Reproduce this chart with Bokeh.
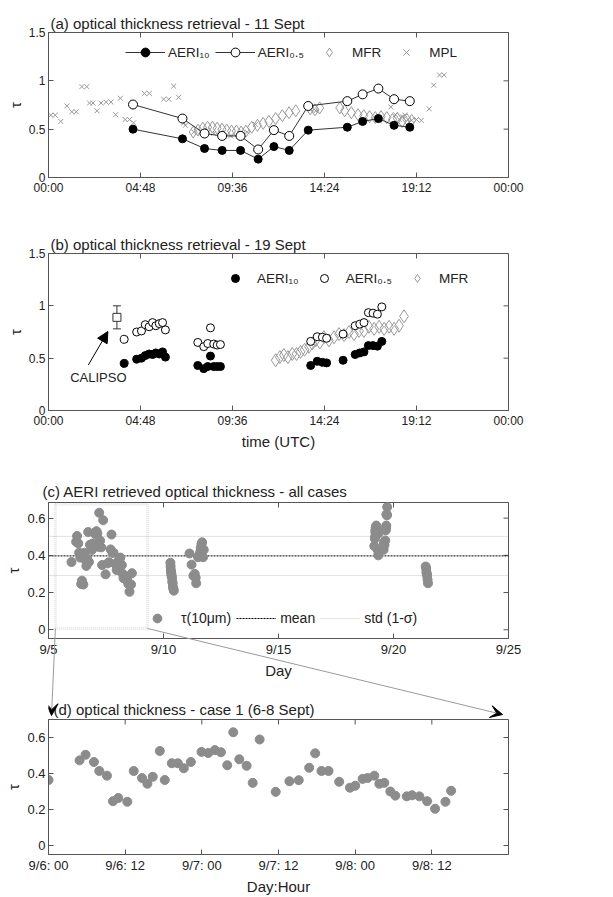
import math
from bokeh.plotting import figure
from bokeh.models import (ColumnDataSource, FixedTicker, CustomJSTickFormatter, Range1d,
                          Legend, LegendItem, Arrow, NormalHead, VeeHead, Whisker, TeeHead, Label,
                          BoxAnnotation)
from bokeh.layouts import column
from bokeh.embed import file_html
from bokeh.resources import INLINE

# ---------------- data ----------------
# (a) 11 Sept
a_aeri_hour = [4.41, 6.99, 8.14, 9.06, 10.02, 10.94, 11.76, 12.56, 13.55, 15.59, 16.39, 17.21, 18.03, 18.85]
a_aeri10 = [0.50, 0.40, 0.30, 0.28, 0.28, 0.19, 0.32, 0.28, 0.49, 0.52, 0.58, 0.61, 0.54, 0.52]
a_aeri05 = [0.755, 0.61, 0.455, 0.43, 0.43, 0.29, 0.49, 0.43, 0.74, 0.79, 0.86, 0.92, 0.81, 0.79]
a_mfr_hour = [7.55, 7.80, 8.05, 8.30, 8.55, 8.80, 9.05, 9.30, 9.55, 9.80, 10.05, 10.30, 10.60, 10.90,
              11.20, 11.50, 11.85, 12.20, 12.55, 12.90, 13.65, 13.90, 14.15, 15.20, 15.45, 15.80,
              16.15, 16.45, 16.75, 17.05, 17.35, 17.65, 17.95, 18.20, 18.45, 18.70, 18.95]
a_mfr = [0.47, 0.49, 0.51, 0.52, 0.52, 0.51, 0.50, 0.49, 0.48, 0.48, 0.47, 0.48, 0.52, 0.54,
         0.56, 0.58, 0.61, 0.64, 0.67, 0.69, 0.71, 0.70, 0.72, 0.72, 0.69, 0.67,
         0.65, 0.64, 0.63, 0.62, 0.63, 0.62, 0.60, 0.61, 0.58, 0.60, 0.59]
a_mpl_hour = [0.12, 0.35, 0.64, 0.96, 1.22, 1.45, 1.74, 2.00, 2.14, 2.32, 2.53, 2.74, 3.01, 3.26,
              3.50, 3.75, 4.00, 4.23, 4.44, 5.00, 5.26, 6.01, 6.27, 6.53, 6.79, 7.06, 7.14, 7.58,
              7.93, 8.28, 8.62, 8.97, 9.50, 10.00, 10.37, 10.80, 13.70, 13.95, 17.86, 18.10,
              18.30, 18.45, 18.60, 18.75, 18.95, 19.20, 19.45, 19.86, 20.10, 20.40, 20.64]
a_mpl = [0.645, 0.645, 0.58, 0.74, 0.68, 0.68, 0.94, 0.94, 0.77, 0.77, 0.69, 0.77, 0.78, 0.78,
         0.65, 0.82, 0.60, 0.60, 0.565, 0.87, 0.87, 0.81, 0.81, 0.945, 0.83, 0.565, 0.54, 0.47,
         0.47, 0.49, 0.455, 0.455, 0.43, 0.455, 0.47, 0.55, 0.71, 0.69, 0.73, 0.65,
         0.60, 0.63, 0.645, 0.60, 0.59, 0.60, 0.59, 0.71, 0.955, 1.06, 1.06]

# (b) 19 Sept
b_aeri_hour = [3.95, 4.60, 4.85, 5.05, 5.25, 5.43, 5.60, 5.78, 5.95, 6.10,
               7.79, 8.10, 8.31, 8.45, 8.62, 8.80, 8.97,
               13.68, 14.02, 14.29, 14.51, 15.37, 16.00, 16.24, 16.46, 16.69, 16.93, 17.16, 17.39]
b_aeri10 = [0.45, 0.49, 0.50, 0.525, 0.54, 0.535, 0.55, 0.54, 0.56, 0.51,
            0.43, 0.40, 0.42, 0.52, 0.42, 0.42, 0.42,
            0.43, 0.47, 0.46, 0.455, 0.48, 0.535, 0.55, 0.56, 0.62, 0.62, 0.615, 0.66]
b_aeri05 = [0.68, 0.75, 0.76, 0.82, 0.80, 0.84, 0.81, 0.83, 0.84, 0.77,
            0.65, 0.61, 0.64, 0.79, 0.635, 0.625, 0.63,
            0.66, 0.705, 0.70, 0.69, 0.73, 0.81, 0.825, 0.84, 0.935, 0.93, 0.92, 0.99]
b_mfr_hour = [11.85, 12.07, 12.28, 12.49, 12.72, 12.94, 13.15, 13.36, 13.59, 13.76, 13.94, 14.16,
              14.37, 14.63, 14.90, 15.16, 15.42, 15.68, 15.94, 16.20, 16.46, 16.72, 16.99, 17.25,
              17.51, 17.77, 18.03, 18.29, 18.55]
b_mfr = [0.48, 0.51, 0.53, 0.51, 0.54, 0.54, 0.56, 0.58, 0.61, 0.64, 0.67, 0.65,
         0.70, 0.67, 0.70, 0.73, 0.72, 0.75, 0.73, 0.76, 0.76, 0.80, 0.78, 0.80,
         0.78, 0.80, 0.78, 0.81, 0.90]
calipso_hour = [3.57]
calipso_tau = [0.89]
calipso_lower = [0.78]
calipso_upper = [1.00]

# (d) case 1, hours after 9/6 00:00
d_hour = [0, 4.86, 5.8, 7.11, 7.95, 9.15, 10.09, 10.93, 12.34, 13.34, 14.64, 15.48, 16.32, 17.42,
          18.2, 19.3, 20.24, 21.18, 22.28, 23.95, 25.0, 26.05, 26.99, 27.98, 28.92, 29.86, 31.01,
          31.96, 33.05, 35.56, 37.71, 39.17, 40.8, 41.74, 42.73, 43.83, 45.5, 47.18, 48.01, 49.16,
          49.95, 50.99, 51.78, 52.56, 53.5, 54.29, 56.07, 56.9, 58.05, 59.26, 60.51, 62.13, 63.02]
d_tau = [0.364, 0.473, 0.504, 0.464, 0.414, 0.388, 0.246, 0.264, 0.243, 0.414, 0.375, 0.343, 0.382,
         0.525, 0.364, 0.457, 0.457, 0.429, 0.464, 0.52, 0.514, 0.53, 0.518, 0.446, 0.629, 0.479,
         0.443, 0.348, 0.589, 0.298, 0.357, 0.363, 0.432, 0.512, 0.414, 0.414, 0.354, 0.321, 0.332,
         0.37, 0.375, 0.388, 0.343, 0.348, 0.3, 0.277, 0.273, 0.279, 0.273, 0.246, 0.204, 0.243, 0.304]

# (c) other cases (day of September)
c_day_10 = [10.30, 10.31, 10.32, 10.33, 10.34, 10.35, 10.37, 10.38, 10.40, 10.41, 10.43, 10.45]
c_tau_10 = [0.36, 0.34, 0.32, 0.31, 0.30, 0.29, 0.28, 0.26, 0.25, 0.23, 0.22, 0.21]
c_day_11 = [11.13, 11.22, 11.30, 11.36, 11.40, 11.42, 11.50, 11.55, 11.60, 11.62, 11.65, 11.68, 11.72, 11.75]
c_tau_11 = [0.41, 0.35, 0.29, 0.30, 0.28, 0.25, 0.39, 0.40, 0.42, 0.44, 0.46, 0.47, 0.39, 0.43]
c_day_21 = [21.40, 21.42, 21.43, 21.45, 21.46, 21.48, 21.50]
c_tau_21 = [0.34, 0.33, 0.31, 0.30, 0.29, 0.27, 0.25]
tau_mean = 0.397
tau_std = 0.105
zoom_box = dict(left=5.3, right=9.3, bottom=0.007, top=0.675)

# tick positions
time_ticks = [0, 4.8, 9.6, 14.4, 19.2, 24]
tau_ticks_ab = [0, 0.5, 1, 1.5]
day_ticks = [5, 10, 15, 20, 25]
dayhour_ticks = [0, 12, 24, 36, 48, 60]
tau_ticks_cd = [0, 0.2, 0.4, 0.6]

# ---------------- style ----------------
FONT = "Liberation Sans"
TXT = "#222222"
AX = "#555555"
W = 533
FRAME_L, FRAME_W = 48, 460
HA, HB, HC, HD = 208, 244, 243, 202
TOPS = dict(a=32, b=45, c=50, d=24)
FRAME_H = dict(a=145, b=157, c=136, d=140)

TIME_FMT = """
const m = Math.round(tick*60) % 1440;
const h = Math.floor(m/60), mm = m % 60;
return (h < 10 ? '0' : '') + h + ':' + (mm < 10 ? '0' : '') + mm;
"""
NUM_FMT = "return String(Math.round(tick*100)/100);"
DAY_FMT = "return '9/' + Math.round(tick);"
DAYHOUR_FMT = """
const d = Math.floor(tick/24 + 1e-9);
const h = Math.round(tick - d*24);
return '9/' + (6 + d) + ': ' + (h < 10 ? '0' : '') + h;
"""


def make_fig(key, h, xr, yr, title, t_offset, t_standoff):
    p = figure(width=W, height=h, x_range=xr, y_range=yr,
               min_border_left=FRAME_L, min_border_right=W - FRAME_L - FRAME_W,
               min_border_top=TOPS[key], min_border_bottom=h - TOPS[key] - FRAME_H[key],
               output_backend="svg", toolbar_location=None, tools="")
    p.title.text = title
    p.title.align = "left"
    p.title.offset = t_offset
    p.title.standoff = t_standoff
    p.title.text_font = FONT
    p.title.text_font_size = "15px"
    p.title.text_font_style = "normal"
    p.title.text_color = TXT
    p.xgrid.visible = False
    p.ygrid.visible = False
    p.outline_line_color = AX
    p.background_fill_color = "white"
    p.border_fill_color = "white"
    return p


def style_axis(ax, ticks, code, size, label=None):
    ax.ticker = FixedTicker(ticks=ticks)
    ax.formatter = CustomJSTickFormatter(code=code)
    ax.major_tick_in = 5
    ax.major_tick_out = 0
    ax.minor_tick_in = 0
    ax.minor_tick_out = 0
    ax.axis_line_color = AX
    ax.major_tick_line_color = AX
    ax.major_label_text_font = FONT
    ax.major_label_text_color = TXT
    ax.major_label_text_font_size = size
    ax.major_label_standoff = 3
    if label is not None:
        ax.axis_label = label
        ax.axis_label_text_font = FONT
        ax.axis_label_text_font_size = "15px"
        ax.axis_label_text_font_style = "normal"
        ax.axis_label_text_color = TXT
        ax.axis_label_standoff = 2


def setup_axes(p, xticks, xcode, yticks, size, xlabel):
    style_axis(p.xaxis[0], xticks, xcode, size, xlabel)
    style_axis(p.yaxis[0], yticks, NUM_FMT, size, "τ")
    # inward ticks on the top and right edges of the box (half of each dash is clipped by the frame)
    y_top, x_right = p.y_range.end, p.x_range.end
    p.scatter(x=xticks, y=[y_top] * len(xticks), marker="dash", angle=math.pi / 2, size=10,
              line_color=AX, line_width=1)
    p.scatter(x=[x_right] * len(yticks), y=yticks, marker="dash", size=10, line_color=AX, line_width=1)


def make_legend(items, loc, gw, standoff, spacing, size):
    return Legend(items=items, location=loc, orientation="horizontal", glyph_width=gw,
                  glyph_height=22, label_standoff=standoff, spacing=spacing, padding=0, margin=0,
                  border_line_alpha=0, background_fill_alpha=0, label_text_font=FONT,
                  label_text_font_size=size, label_text_color=TXT)


GRAY_MK = "#999999"

# ---------------- (a) ----------------
pa = make_fig("a", HA, Range1d(0, 24), Range1d(0, 1.5),
              "(a) optical thickness retrieval - 11 Sept", 2, 2)
setup_axes(pa, time_ticks, TIME_FMT, tau_ticks_ab, "12px", None)
r_mpl = pa.scatter(a_mpl_hour, a_mpl, marker="x", size=7, line_color=GRAY_MK, line_width=1)
r_mfr = pa.scatter(a_mfr_hour, a_mfr, marker="diamond", size=12, fill_alpha=0,
                   line_color=GRAY_MK, line_width=1)
l10 = pa.line(a_aeri_hour, a_aeri10, line_color="#333333", line_width=1)
l05 = pa.line(a_aeri_hour, a_aeri05, line_color="#333333", line_width=1)
s10 = pa.scatter(a_aeri_hour, a_aeri10, marker="circle", size=8, fill_color="black", line_color="black")
s05 = pa.scatter(a_aeri_hour, a_aeri05, marker="circle", size=9, fill_color="white", line_color="black")
pa.add_layout(make_legend([
    LegendItem(label="AERI₁₀", renderers=[l10, s10]),
    LegendItem(label="AERI₀.₅", renderers=[l05, s05]),
    LegendItem(label="MFR", renderers=[r_mfr]),
    LegendItem(label="MPL", renderers=[r_mpl]),
], (77, 114), 40, 3, 5, "13.5px"))

# ---------------- (b) ----------------
pb = make_fig("b", HB, Range1d(0, 24), Range1d(0, 1.5),
              "(b) optical thickness retrieval - 19 Sept", 2, 2)
setup_axes(pb, time_ticks, TIME_FMT, tau_ticks_ab, "12px", "time (UTC)")
rb_mfr = pb.scatter(b_mfr_hour, b_mfr, marker="diamond", size=13, fill_alpha=0,
                    line_color=GRAY_MK, line_width=1)
rb10 = pb.scatter(b_aeri_hour, b_aeri10, marker="circle", size=8, fill_color="black", line_color="black")
rb05 = pb.scatter(b_aeri_hour, b_aeri05, marker="circle", size=8, fill_color="white", line_color="black")
cal_src = ColumnDataSource(dict(x=calipso_hour, y=calipso_tau, lower=calipso_lower, upper=calipso_upper))
pb.add_layout(Whisker(source=cal_src, base="x", lower="lower", upper="upper", dimension="height",
                      line_color="#333333", line_width=1,
                      lower_head=TeeHead(size=8, line_color="#333333", line_width=1),
                      upper_head=TeeHead(size=8, line_color="#333333", line_width=1)))
pb.scatter("x", "y", source=cal_src, marker="square", size=8, fill_color="white", line_color="#333333")
pb.add_layout(Arrow(end=NormalHead(size=11, fill_color="black", line_color="black"),
                    x_start=2.08, y_start=0.435, x_end=3.10, y_end=0.755,
                    line_color="black", line_width=1))
pb.add_layout(Label(x=2.6, y=0.32, text="CALIPSO", text_align="center", text_baseline="middle",
                    text_font=FONT, text_font_size="13px", text_color=TXT))
pb.add_layout(make_legend([
    LegendItem(label="AERI₁₀", renderers=[rb10]),
    LegendItem(label="AERI₀.₅", renderers=[rb05]),
    LegendItem(label="MFR", renderers=[rb_mfr]),
], (177, 121), 20, 12, 15, "13.5px"))

# ---------------- (c) ----------------
C_Y = (-0.047, 0.684)
pc = make_fig("c", HC, Range1d(5, 25), Range1d(*C_Y),
              "(c)  AERI retrieved optical thickness - all cases", -6, 6)
setup_axes(pc, day_ticks, DAY_FMT, tau_ticks_cd, "13px", "Day")
c_day_6 = [6 + h / 24 for h in d_hour]
c_day_19 = [19 + h / 24 for h in b_aeri_hour]
all_day = c_day_6 + c_day_10 + c_day_11 + c_day_19 + c_day_21
all_tau = d_tau + c_tau_10 + c_tau_11 + b_aeri10 + c_tau_21
pc.add_layout(BoxAnnotation(fill_alpha=0, line_color="#aaaaaa", line_width=3, line_dash="1 1",
                            **zoom_box))
x_lo, x_hi = pc.x_range.start, pc.x_range.end
r_std = pc.segment(x0=[x_lo, x_lo], x1=[x_hi, x_hi], y0=[tau_mean - tau_std, tau_mean + tau_std],
                   y1=[tau_mean - tau_std, tau_mean + tau_std], line_color="#c4c4c4",
                   line_width=1, line_dash="1 1")
r_mean = pc.segment(x0=[x_lo], x1=[x_hi], y0=[tau_mean], y1=[tau_mean], line_color="#000000",
                    line_width=1, line_dash="2 1")
r_tau = pc.scatter(all_day, all_tau, marker="circle", size=9, fill_color="#8c8c8c", line_color="#8c8c8c")
pc.add_layout(make_legend([
    LegendItem(label="τ(10μm)", renderers=[r_tau]),
    LegendItem(label="mean", renderers=[r_mean]),
    LegendItem(label="std (1-σ)", renderers=[r_std]),
], (89, 9), 40, 4, 5, "14px"))

# ---------------- (d) ----------------
D_Y = (-0.05, 0.70)
pd_ = make_fig("d", HD, Range1d(0, 72), Range1d(*D_Y),
               "(d) optical thickness - case 1 (6-8 Sept)", 5, 3)
setup_axes(pd_, dayhour_ticks, DAYHOUR_FMT, tau_ticks_cd, "13px", "Day:Hour")
pd_.scatter(d_hour, d_tau, marker="circle", size=9, fill_color="#8c8c8c", line_color="#8c8c8c")

# ---------------- zoom connectors from the box in (c) to panel (d) ----------------
# a transparent overlay figure pulled up over the gap between (c) and (d); its frame shares
# the horizontal extent of the other frames, so its x range is expressed in page pixels
c_top = HA + HB + TOPS["c"]
d_top = HA + HB + HC + TOPS["d"]
OV_Y0, OV_H = 612, 112
total_h = HA + HB + HC + HD


def c_to_page(x, y):
    return (FRAME_L + (x - 5) / 20 * FRAME_W,
            c_top + (C_Y[1] - y) / (C_Y[1] - C_Y[0]) * FRAME_H["c"])


ov = figure(width=W, height=OV_H, x_range=Range1d(FRAME_L, FRAME_L + FRAME_W),
            y_range=Range1d(OV_H, 0),
            min_border_left=FRAME_L, min_border_right=W - FRAME_L - FRAME_W, min_border_top=0,
            min_border_bottom=0, x_axis_type=None, y_axis_type=None, title=None,
            output_backend="svg", toolbar_location=None, tools="",
            margin=(OV_Y0 - total_h, 0, total_h - OV_Y0 - OV_H, 0))
ov.xgrid.visible = False
ov.ygrid.visible = False
ov.outline_line_color = None
ov.background_fill_alpha = 0
ov.border_fill_alpha = 0

starts = [c_to_page(zoom_box["left"], zoom_box["bottom"]),
          c_to_page(zoom_box["right"], zoom_box["bottom"])]
tips = [(FRAME_L + 3, d_top - 4), (FRAME_L + FRAME_W - 6, d_top - 5)]
for (sx, sy), (tx, ty) in zip(starts, tips):
    ov.add_layout(Arrow(end=VeeHead(size=12, fill_color="black", line_color="black"),
                        x_start=sx, y_start=sy - OV_Y0, x_end=tx, y_end=ty - OV_Y0,
                        line_color="#9a9a9a", line_width=1))

layout = column(pa, pb, pc, pd_, ov)
open("out.html", "w").write(file_html(layout, INLINE))
